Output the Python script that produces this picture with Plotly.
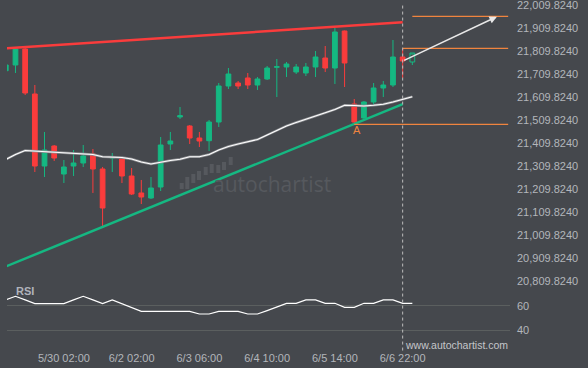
import plotly.graph_objects as go

# ---------------- data ----------------
candle_idx = list(range(42))
opens = [21722.9, 21747.7, 21817.2, 21621.6, 21308.5, 21395.5, 21273.7, 21308.5, 21321.6, 21360.7,
         21295.5, 21343.3, 21339.0, 21265.0, 21191.2, 21169.4, 21217.2, 21404.2, 21521.6, 21482.5,
         21430.3, 21418.5, 21499.8, 21656.3, 21669.4, 21691.2, 21660.7, 21686.8, 21737.6, 21739.0,
         21717.2, 21712.9, 21739.0, 21778.1, 21734.6, 21895.5, 21578.1, 21517.2, 21586.8, 21647.7,
         21660.7, 21782.4]
highs = [21752.0, 21821.6, 21823.7, 21660.7, 21456.4, 21399.8, 21334.6, 21378.1, 21399.8, 21382.4,
         21304.2, 21365.0, 21343.3, 21299.8, 21247.7, 21260.7, 21434.6, 21456.4, 21565.1, 21486.8,
         21456.4, 21508.5, 21669.4, 21734.6, 21678.1, 21712.9, 21695.5, 21743.3, 21773.7, 21760.7,
         21752.0, 21756.4, 21808.5, 21830.3, 21908.5, 21897.7, 21599.8, 21591.1, 21669.4, 21678.1,
         21856.4, 21817.2]
lows = [21717.2, 21712.9, 21617.2, 21282.4, 21260.7, 21330.3, 21234.6, 21265.0, 21304.2, 21191.2,
        21038.9, 21282.4, 21234.6, 21182.4, 21143.3, 21165.1, 21199.8, 21378.1, 21512.9, 21404.2,
        21391.1, 21373.8, 21478.1, 21643.3, 21643.3, 21643.3, 21639.0, 21682.4, 21608.5, 21695.5,
        21708.5, 21699.8, 21695.5, 21717.2, 21665.1, 21652.0, 21491.1, 21512.9, 21573.7, 21608.5,
        21652.0, 21691.2]
closes = [21747.7, 21817.2, 21625.9, 21308.5, 21378.1, 21343.3, 21304.2, 21321.6, 21352.0, 21295.5,
          21125.9, 21347.6, 21265.0, 21186.8, 21173.7, 21212.8, 21399.8, 21417.2, 21527.2, 21430.3,
          21417.2, 21499.8, 21656.3, 21708.5, 21656.3, 21660.7, 21686.8, 21734.6, 21740.3, 21752.0,
          21739.0, 21739.0, 21782.4, 21734.6, 21891.1, 21756.4, 21499.8, 21586.8, 21647.7, 21660.7,
          21782.4, 21765.1]

# current (still forming) candle
live_idx = [42]
live_open = [21760.7]
live_high = [21799.8]
live_low = [21747.7]
live_close = [21799.8]

ma_idx = list(range(43))
ma_values = [21336.8, 21358.5, 21375.9, 21373.7, 21369.4, 21367.2, 21365.0, 21365.0, 21362.9, 21358.5,
             21348.9, 21347.6, 21345.5, 21339.0, 21325.9, 21317.2, 21325.9, 21332.5, 21337.7, 21348.5,
             21348.9, 21358.5, 21378.1, 21393.3, 21404.2, 21412.9, 21423.7, 21443.3, 21462.9, 21482.5,
             21497.7, 21510.7, 21523.8, 21539.8, 21554.2, 21572.5, 21571.6, 21569.4, 21572.5, 21576.8,
             21586.8, 21598.5, 21609.8]

rsi_values = [65, 68, 65, 62, 62, 62, 62, 65, 68, 65,
              62, 65, 62, 59, 55.6, 55.6, 55.6, 55.6, 55.6, 55.5,
              53.4, 53.4, 55.6, 55.6, 55.6, 53.4, 53.4, 56.2, 59.2, 62.2,
              62.2, 65, 65, 62.2, 62.2, 58.9, 58.9, 62.2, 62.2, 65,
              65, 62.2, 62.2]

resistance_x = [0, 41]
resistance_y = [21819.8, 21933.3]
support_x = [0, 41]
support_y = [20871.5, 21577.2]

level_values = [21959.4, 21820.2, 21489.8]
level_start = [42, 41, 36]
level_end = 51.9

forecast_from = (41, 21765.0)
forecast_to = (50.74, 21957.6)
point_a = (36.3, 21465.0)
now_idx = 41

x_tickvals = [6, 13, 20, 27, 34, 41]
x_ticktext = ["5/30 02:00", "6/2 02:00", "6/3 06:00", "6/4 10:00", "6/5 14:00", "6/6 22:00"]
y_tickvals = [22009.824, 21909.824, 21809.824, 21709.824, 21609.824, 21509.824, 21409.824,
              21309.824, 21209.824, 21109.824, 21009.824, 20909.824, 20809.824]
y_ticktext = ["22,009.8240", "21,909.8240", "21,809.8240", "21,709.8240", "21,609.8240",
              "21,509.8240", "21,409.8240", "21,309.8240", "21,209.8240", "21,109.8240",
              "21,009.8240", "20,909.8240", "20,809.8240"]
rsi_tickvals = [40, 60]

# ---------------- style ----------------
BG = "#45484d"
GREEN = "#15b882"
RED = "#fa3c3c"
ORANGE = "#f0843f"
TICK = "#b3b6bb"
FONT = "Liberation Sans, Arial, sans-serif"
WM = "#56595e"

fig = go.Figure()

# support / resistance
fig.add_trace(go.Scatter(x=resistance_x, y=resistance_y, mode="lines",
                         line=dict(color=RED, width=2.5), hoverinfo="skip"))
fig.add_trace(go.Scatter(x=support_x, y=support_y, mode="lines",
                         line=dict(color=GREEN, width=2.5), hoverinfo="skip"))

# moving average (shadow + white)
fig.add_trace(go.Scatter(x=ma_idx, y=ma_values, mode="lines",
                         line=dict(color="#8a8c90", width=2.4), hoverinfo="skip"))
fig.add_trace(go.Scatter(x=ma_idx, y=ma_values, mode="lines",
                         line=dict(color="#ffffff", width=1.1), hoverinfo="skip"))

# candles
fig.add_trace(go.Candlestick(
    x=candle_idx, open=opens, high=highs, low=lows, close=closes,
    increasing=dict(line=dict(color=GREEN, width=1), fillcolor=GREEN),
    decreasing=dict(line=dict(color=RED, width=1), fillcolor=RED),
    whiskerwidth=0, hoverinfo="skip"))
fig.add_trace(go.Candlestick(
    x=live_idx, open=live_open, high=live_high, low=live_low, close=live_close,
    increasing=dict(line=dict(color=GREEN, width=1), fillcolor="rgba(0,0,0,0)"),
    decreasing=dict(line=dict(color=RED, width=1), fillcolor="rgba(0,0,0,0)"),
    whiskerwidth=0, hoverinfo="skip"))

# horizontal levels
for v, s in zip(level_values, level_start):
    fig.add_trace(go.Scatter(x=[s, level_end], y=[v, v], mode="lines",
                             line=dict(color=ORANGE, width=1.3), hoverinfo="skip"))

# RSI
fig.add_trace(go.Scatter(x=ma_idx, y=rsi_values, mode="lines", yaxis="y2",
                         line=dict(color="#ffffff", width=1.2), hoverinfo="skip"))

# forecast arrow
fig.add_annotation(x=forecast_to[0], y=forecast_to[1], ax=forecast_from[0], ay=forecast_from[1],
                   xref="x", yref="y", axref="x", ayref="y", text="", showarrow=True,
                   arrowhead=2, arrowsize=1, arrowwidth=1.5, arrowcolor="#e8e8e8")

# point A
fig.add_annotation(x=point_a[0], y=point_a[1], xref="x", yref="y", text="A", showarrow=False,
                   font=dict(family=FONT, size=11, color=ORANGE))

# RSI label
fig.add_annotation(x=0.014, y=0.149, xref="paper", yref="paper", text="<b>RSI</b>",
                   showarrow=False, xanchor="left", yanchor="middle",
                   font=dict(family=FONT, size=11, color="#b0b3bb"))

# watermark
fig.add_annotation(x=0.526, y=0.462, xref="paper", yref="paper", text="autochartist",
                   showarrow=False, xanchor="center", yanchor="middle",
                   font=dict(family="Open Sans", size=21, color=WM))
logo = [(181.7, 183, 189), (187.3, 177, 189), (193.3, 174, 183), (199, 171, 180),
        (205.7, 167, 175), (211.7, 164, 173), (218.3, 165, 173), (224, 162, 170), (230.7, 157, 165)]
for cx, t, b in logo:
    fig.add_shape(type="rect", xref="paper", yref="paper",
                  x0=(cx - 2 - 7) / 503, x1=(cx + 2 - 7) / 503,
                  y0=(342 - b) / 342, y1=(342 - t) / 342,
                  fillcolor=WM, line=dict(width=0), layer="below")

# www text
fig.add_annotation(x=(403 - 7) / 503, y=-0.008, xref="paper", yref="paper",
                   text="www.autochartist.com", showarrow=False, xanchor="left", yanchor="middle",
                   font=dict(family=FONT, size=10.5, color="#c4c6ca"))

# now line
fig.add_shape(type="line", xref="x", yref="paper", x0=now_idx, x1=now_idx,
              y0=-0.025, y1=0.988, line=dict(color="#bdbdbd", width=1, dash="3px,3px"))

fig.update_layout(
    width=588, height=368,
    margin=dict(l=7, r=78, t=0, b=26),
    paper_bgcolor=BG, plot_bgcolor=BG,
    showlegend=False,
    font=dict(family=FONT, size=11, color=TICK),
    xaxis=dict(range=[0.124, 52.09], anchor="y2", tickmode="array", tickvals=x_tickvals,
               ticktext=x_ticktext, showgrid=False, zeroline=False, showline=False, ticks="",
               tickfont=dict(size=11, color=TICK), rangeslider=dict(visible=False),
               ticklabelstandoff=8),
    yaxis=dict(domain=[0.16667, 1], range=[20791.1, 22030.26], side="right", anchor="x",
               tickmode="array", tickvals=y_tickvals, ticktext=y_ticktext,
               showgrid=False, zeroline=False, showline=False, ticks="",
               tickfont=dict(size=11, color=TICK), ticklabelstandoff=6,
               ticklabeloverflow="allow"),
    yaxis2=dict(domain=[0, 0.16667], range=[30.37, 77.28], side="right", anchor="x",
                tickmode="array", tickvals=rsi_tickvals, showgrid=True, gridcolor="#5b5f5f",
                gridwidth=1, zeroline=False, showline=False, ticks="",
                tickfont=dict(size=11, color=TICK), ticklabelstandoff=6),
)

fig.write_html("out.html", config={"displayModeBar": False},
               post_script="document.body.style.margin='0';document.body.style.background='%s';" % BG)
